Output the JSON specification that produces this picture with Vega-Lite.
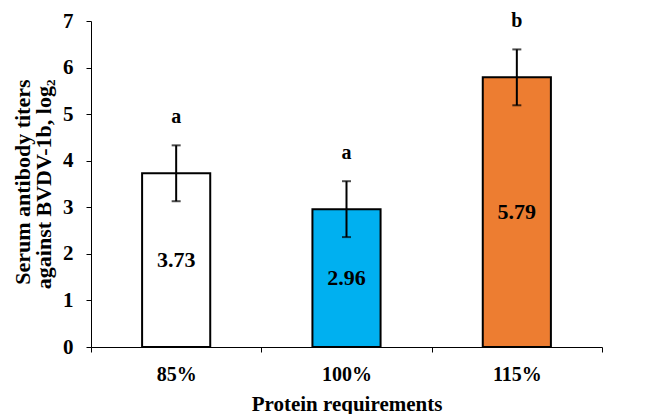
{
  "$schema": "https://vega.github.io/schema/vega-lite/v6.json",
  "width": 511,
  "height": 326,
  "autosize": {"type": "none"},
  "padding": {"left": 91, "top": 21, "right": 52, "bottom": 67},
  "background": "white",
  "config": {
    "font": "Liberation Serif",
    "view": {"stroke": null},
    "axis": {
      "labelFont": "Liberation Serif",
      "titleFont": "Liberation Serif",
      "labelFontWeight": "bold",
      "titleFontWeight": "bold",
      "labelColor": "black",
      "titleColor": "black",
      "domainColor": "black",
      "tickColor": "black",
      "domainWidth": 1,
      "tickWidth": 1,
      "tickSize": 5,
      "grid": false
    }
  },
  "data": {
    "values": [
      {"protein": "85%", "mean": 3.73, "lo": 3.13, "hi": 4.33, "letter": "a", "label": "3.73"},
      {"protein": "100%", "mean": 2.96, "lo": 2.36, "hi": 3.56, "letter": "a", "label": "2.96"},
      {"protein": "115%", "mean": 5.79, "lo": 5.19, "hi": 6.39, "letter": "b", "label": "5.79"}
    ]
  },
  "encoding": {
    "x": {
      "field": "protein",
      "type": "nominal",
      "sort": ["85%", "100%", "115%"],
      "scale": {"paddingInner": 0, "paddingOuter": 0},
      "axis": {
        "title": "Protein requirements",
        "labelAngle": 0,
        "labelFontSize": 20,
        "labelPadding": 12,
        "tickBand": "extent",
        "titleFontSize": 21,
        "titleBaseline": "alphabetic",
        "titleY": 63
      }
    }
  },
  "layer": [
    {
      "mark": {"type": "bar", "width": {"band": 0.4}, "stroke": "black", "strokeWidth": 2},
      "encoding": {
        "y": {
          "field": "mean",
          "type": "quantitative",
          "scale": {"domain": [0, 7], "nice": false},
          "axis": {
            "values": [0, 1, 2, 3, 4, 5, 6, 7],
            "labelFontSize": 21,
            "labelPadding": 13,
            "title": ["Serum antibody titers", "against BVDV-1b, log₂"],
            "titleFontSize": 22,
            "titleAngle": -90,
            "titleAlign": "right",
            "titleBaseline": "middle",
            "titleLineHeight": 21,
            "titleX": -69,
            "titleY": 58
          }
        },
        "fill": {
          "field": "protein",
          "type": "nominal",
          "scale": {"domain": ["85%", "100%", "115%"], "range": ["#ffffff", "#00b0f0", "#ed7d31"]},
          "legend": null
        }
      }
    },
    {
      "mark": {"type": "rule", "color": "black", "strokeWidth": 2},
      "encoding": {
        "y": {"field": "lo", "type": "quantitative"},
        "y2": {"field": "hi"}
      }
    },
    {
      "mark": {"type": "tick", "color": "black", "size": 9, "thickness": 2, "orient": "horizontal"},
      "encoding": {"y": {"field": "lo", "type": "quantitative"}}
    },
    {
      "mark": {"type": "tick", "color": "black", "size": 9, "thickness": 2, "orient": "horizontal"},
      "encoding": {"y": {"field": "hi", "type": "quantitative"}}
    },
    {
      "mark": {"type": "text", "fontSize": 20, "fontWeight": "bold", "color": "black", "baseline": "middle", "dy": -28},
      "encoding": {
        "y": {"field": "hi", "type": "quantitative"},
        "text": {"field": "letter"}
      }
    },
    {
      "transform": [{"calculate": "datum.mean / 2", "as": "mid"}],
      "mark": {"type": "text", "fontSize": 22, "fontWeight": "bold", "color": "black", "baseline": "middle"},
      "encoding": {
        "y": {"field": "mid", "type": "quantitative"},
        "text": {"field": "label"}
      }
    }
  ]
}
